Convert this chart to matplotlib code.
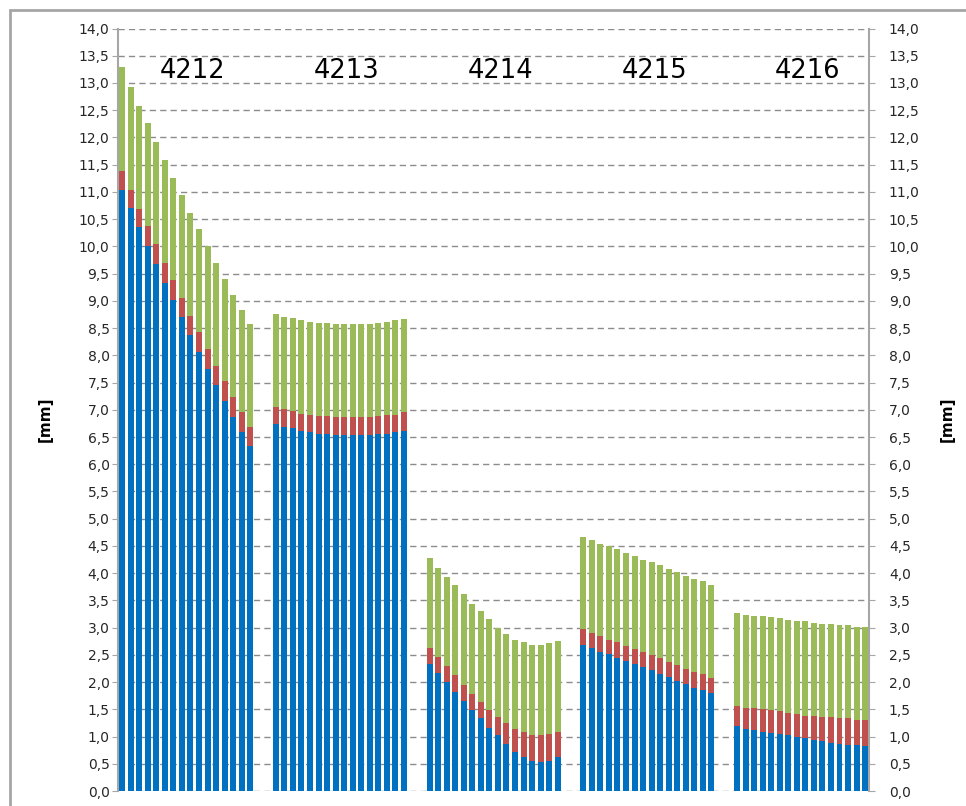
import matplotlib.pyplot as plt
import matplotlib.patches as mpatches
from matplotlib.ticker import MultipleLocator, FuncFormatter

groups = ["4212", "4213", "4214", "4215", "4216"]

# bar tops (cumulative: blue, blue+red, total)
blue = [
    [11.04, 10.70, 10.36, 10.01, 9.67, 9.33, 9.01, 8.70, 8.38, 8.06, 7.74, 7.45, 7.16, 6.87, 6.60, 6.33],
    [6.74, 6.69, 6.66, 6.61, 6.59, 6.56, 6.56, 6.54, 6.54, 6.54, 6.54, 6.54, 6.56, 6.56, 6.59, 6.61],
    [2.34, 2.17, 2.00, 1.82, 1.65, 1.48, 1.34, 1.16, 1.02, 0.87, 0.72, 0.62, 0.55, 0.53, 0.55, 0.62],
    [2.68, 2.63, 2.56, 2.51, 2.44, 2.39, 2.34, 2.27, 2.22, 2.14, 2.09, 2.02, 1.97, 1.90, 1.85, 1.80],
    [1.19, 1.14, 1.12, 1.09, 1.07, 1.04, 1.02, 0.99, 0.97, 0.94, 0.92, 0.89, 0.87, 0.85, 0.85, 0.82],
]
red_top = [
    [11.38, 11.04, 10.69, 10.38, 10.04, 9.69, 9.38, 9.06, 8.72, 8.43, 8.11, 7.81, 7.52, 7.23, 6.96, 6.69],
    [7.05, 7.01, 6.98, 6.93, 6.91, 6.88, 6.88, 6.86, 6.86, 6.86, 6.86, 6.86, 6.88, 6.91, 6.91, 6.95],
    [2.63, 2.46, 2.29, 2.13, 1.95, 1.78, 1.63, 1.48, 1.36, 1.24, 1.14, 1.08, 1.02, 1.02, 1.04, 1.09],
    [2.98, 2.90, 2.85, 2.78, 2.73, 2.66, 2.61, 2.56, 2.49, 2.44, 2.36, 2.31, 2.24, 2.19, 2.14, 2.07],
    [1.56, 1.53, 1.53, 1.51, 1.48, 1.46, 1.43, 1.41, 1.38, 1.38, 1.36, 1.36, 1.34, 1.34, 1.31, 1.31],
]
total = [
    [13.30, 12.92, 12.57, 12.27, 11.92, 11.58, 11.25, 10.94, 10.62, 10.31, 10.00, 9.69, 9.40, 9.11, 8.84, 8.57],
    [8.76, 8.71, 8.69, 8.64, 8.62, 8.59, 8.59, 8.57, 8.57, 8.57, 8.57, 8.57, 8.59, 8.62, 8.64, 8.67],
    [4.27, 4.10, 3.93, 3.78, 3.61, 3.44, 3.30, 3.15, 3.00, 2.88, 2.78, 2.73, 2.68, 2.68, 2.71, 2.76],
    [4.66, 4.61, 4.54, 4.49, 4.44, 4.37, 4.32, 4.24, 4.20, 4.15, 4.07, 4.02, 3.95, 3.90, 3.85, 3.78],
    [3.26, 3.24, 3.22, 3.22, 3.19, 3.17, 3.14, 3.12, 3.12, 3.09, 3.07, 3.07, 3.04, 3.04, 3.02, 3.02],
]

c_blue = "#0070C0"
c_red = "#C0504D"
c_green = "#9BBB59"

fig = plt.figure(figsize=(9.66, 8.06), dpi=100)
ax = fig.add_axes([0.122, 0.0186, 0.778, 0.946])

# outer chart frame
fig.patches.append(mpatches.Rectangle((0.0104, -0.05), 1.2, 1.0376, transform=fig.transFigure,
                                      fill=False, edgecolor="#A6A6A6", linewidth=2))

n = 16
gap = 2
w = 0.7
for g in range(len(groups)):
    xs = [g * (n + gap) + i for i in range(n)]
    b = blue[g]
    r = [red_top[g][i] - b[i] for i in range(n)]
    gr = [total[g][i] - red_top[g][i] for i in range(n)]
    ax.bar(xs, b, width=w, color=c_blue, zorder=3)
    ax.bar(xs, r, width=w, bottom=b, color=c_red, zorder=3)
    ax.bar(xs, gr, width=w, bottom=red_top[g], color=c_green, zorder=3)
    ax.text(g * (n + gap) + (n - 1) / 2 + 0.8, 13.22, groups[g], ha="center", va="center",
            fontsize=18.5, color="black")

ax.set_xlim(-0.5, len(groups) * (n + gap) - gap - 0.5)
ax.set_ylim(0, 14)
ax.set_xticks([])

fmt = FuncFormatter(lambda v, p: ("%.1f" % v).replace(".", ","))
ax.yaxis.set_major_locator(MultipleLocator(0.5))
ax.yaxis.set_major_formatter(fmt)
ax.grid(axis="y", color="#8C8C8C", linestyle=(0, (4.5, 3)), linewidth=1, zorder=0)

for s in ["top", "bottom"]:
    ax.spines[s].set_visible(False)
for s in ["left", "right"]:
    ax.spines[s].set_color("#A6A6A6")
    ax.spines[s].set_linewidth(1.5)

ax.tick_params(axis="y", direction="out", length=4, color="#A6A6A6", labelsize=10,
               pad=2, labelcolor="#262626")

ax2 = ax.twinx()
ax2.set_ylim(0, 14)
ax2.yaxis.set_major_locator(MultipleLocator(0.5))
ax2.yaxis.set_major_formatter(fmt)
ax2.tick_params(axis="y", direction="out", length=4, color="#A6A6A6", labelsize=10,
                pad=10, labelcolor="#262626")
for s in ["top", "bottom", "left", "right"]:
    ax2.spines[s].set_visible(False)

fig.text(0.047, 0.48, "[mm]", rotation=90, ha="center", va="center", fontsize=11,
         fontweight="bold")
fig.text(0.981, 0.48, "[mm]", rotation=90, ha="center", va="center", fontsize=11,
         fontweight="bold")

fig.savefig("out.png", dpi=100)
